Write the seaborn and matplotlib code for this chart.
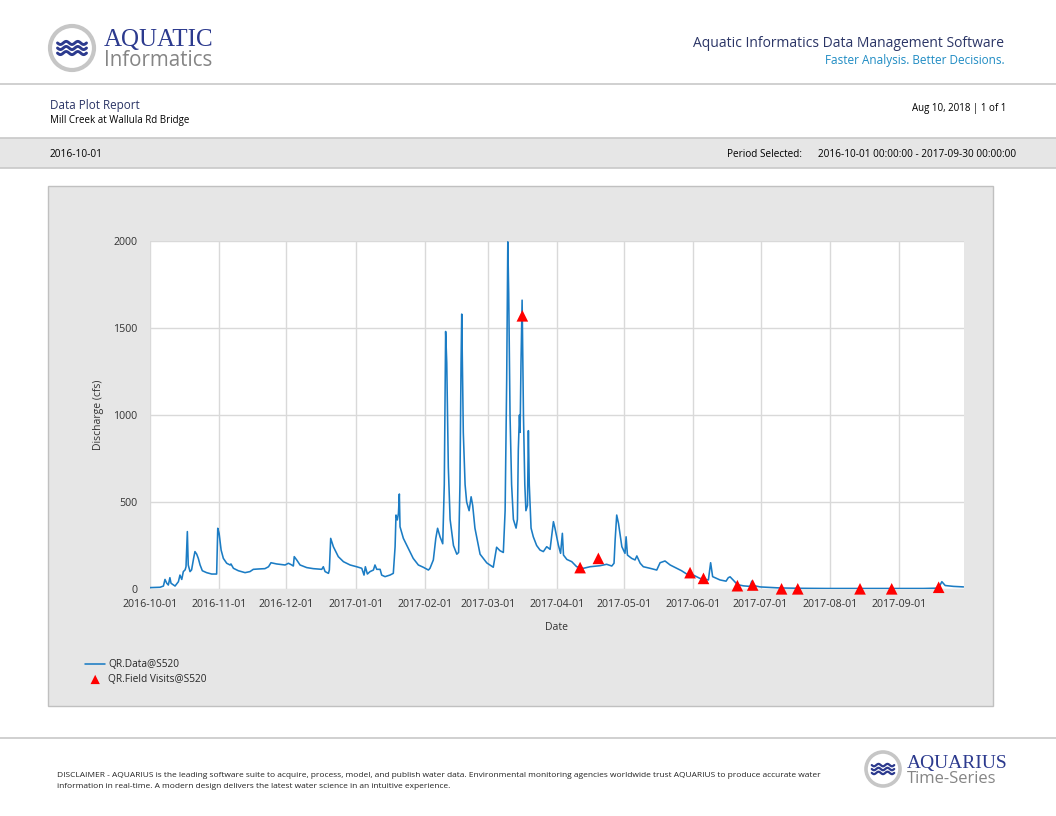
import numpy as np
import pandas as pd
import matplotlib
matplotlib.use("Agg")
import matplotlib.pyplot as plt
import matplotlib.dates as mdates
from matplotlib.patches import Rectangle, Circle
import seaborn as sns

# ---------------- data ----------------
START = "2016-10-01"
END = "2017-09-30"

day_offsets = [0, 4.5, 6.0, 6.7, 7.5, 8.2, 8.9, 9.4, 11.2, 12.7, 13.4, 14.2, 14.9, 15.7, 16.1,
               16.7, 17.1, 17.9, 18.6, 19.5, 20.1, 20.9, 21.6, 22.4, 23.4, 25.3, 27.6, 29.8,
               30.3, 30.9, 31.8, 32.8, 34.3, 35.8, 36.2, 37.3, 39.5, 42.5, 44.7, 46.2, 48.4,
               51.4, 53.0, 54.1, 56.6, 60.4, 61.9, 63.4,
               64.1, 64.5, 65.6, 67.1, 70.1, 73.0, 76.8, 77.5, 78.3, 79.8, 80.2, 80.8, 82.0,
               84.2, 86.5, 89.5, 92.4, 94.7, 95.7, 96.3, 97.2, 98.4, 99.9, 100.6, 101.4, 102.9,
               103.6, 105.1, 107.3, 108.8, 109.6, 110.0, 110.6, 111.1, 111.5, 111.8, 113.3,
               115.5, 117.7, 120.0, 122.2, 124.5, 125.2, 126.7, 127.8, 128.6,
               129.7, 130.9, 131.6, 132.2, 132.7, 133.4, 134.2, 135.7,
               137.2, 138.0, 138.6, 139.1, 139.4, 140.1, 140.9, 141.6, 142.7, 143.6, 144.3, 145.3,
               147.6, 150.6, 153.5, 155.0, 156.5, 158.0, 158.8, 159.5, 160.0, 160.4, 161.0, 161.7,
               162.5, 163.7, 164.3, 164.7, 165.2, 165.5, 165.9, 166.4, 167.0, 167.6, 168.1, 168.8,
               169.2, 169.6, 170.4, 171.4, 172.9,
               174.4, 175.9, 177.4, 178.9, 179.6, 180.4, 181.1, 182.6, 183.6, 184.4, 184.9, 186.4,
               188.6, 190.8, 193.8, 196.8, 201.3, 204.2, 206.5, 207.5, 208.0, 208.7, 209.5, 211.0,
               212.4, 212.9, 213.5, 215.4, 216.9, 217.7, 219.2, 220.6, 223.6, 226.6, 228.1, 230.3,
               232.6, 235.5, 237.7, 240.0, 243.0, 245.9, 249.7, 250.7, 251.6, 254.9,
               257.6, 258.6, 259.4, 260.9, 262.7, 265.4, 268.3, 269.1, 269.8, 272.8, 275.8,
               281.7, 290.7, 302.6, 316.0, 332.4, 345.8, 352.6, 354.1, 355.6, 359.3, 363.8]
discharge_cfs = [8, 10, 17, 55, 33, 23, 65, 33, 17, 42, 80, 55, 100, 110, 128,
                 330, 138, 100, 110, 176, 215, 200, 176, 138, 105, 94, 86, 86,
                 349, 320, 224, 176, 148, 138, 144, 119, 105, 94, 100, 113, 115,
                 117, 128, 151, 144, 138, 148, 138,
                 132, 186, 167, 138, 123, 117, 113, 128, 100, 90, 109, 291, 243,
                 186, 157, 138, 128, 119, 80, 128, 86, 100, 109, 138, 113, 113,
                 80, 71, 80, 90, 243, 425, 397, 435, 546, 358, 291,
                 234, 176, 138, 125, 109, 119, 167, 291, 349,
                 300, 260, 600, 1480, 1300, 700, 400, 250,
                 200, 210, 600, 1300, 1580, 900, 600, 500, 450, 530, 480, 350,
                 200, 150, 125, 240, 220, 210, 450, 1200, 1995, 1700, 1000, 600,
                 400, 350, 400, 800, 1000, 900, 1300, 1660, 1000, 600, 450, 480,
                 910, 600, 350, 300, 250,
                 224, 215, 243, 228, 300, 387, 349, 253, 205, 320, 195, 170,
                 157, 128, 119, 128, 134, 142, 132, 148, 282, 425, 377, 243,
                 205, 300, 195, 176, 167, 190, 148, 128, 119, 109, 151, 161,
                 138, 119, 105, 86, 80, 61, 52, 151, 71, 52,
                 45, 65, 70, 50, 25, 18, 15, 45, 20, 12, 10,
                 6, 4, 3, 3, 3, 3, 5, 42, 20, 15, 12]

visit_dates = ["2017-03-16 12:00", "2017-04-11 08:00", "2017-04-19 12:00", "2017-05-30 12:00",
               "2017-06-05 12:00", "2017-06-20 16:00", "2017-06-27 12:00", "2017-07-10 10:00",
               "2017-07-17 16:00", "2017-08-14 12:00", "2017-08-28 16:00", "2017-09-18 16:00"]
visit_cfs = [1570, 123, 176, 94, 61, 19, 23, 1, 1, 1, 1, 10]

y_ticks = [0, 500, 1000, 1500, 2000]
series_label = "QR.Data@S520"
visits_label = "QR.Field Visits@S520"
x_label = "Date"
y_label = "Discharge (cfs)"

title_main = "Data Plot Report"
location = "Mill Creek at Wallula Rd Bridge"
report_date = "Aug 10, 2018 | 1 of 1"
band_left = "2016-10-01"
period_label = "Period Selected:"
period_value = "2016-10-01 00:00:00 - 2017-09-30 00:00:00"
header_right1 = "Aquatic Informatics Data Management Software"
header_right2 = "Faster Analysis. Better Decisions."
disclaimer1 = ("DISCLAIMER - AQUARIUS is the leading software suite to acquire, process, model, and publish "
               "water data. Environmental monitoring agencies worldwide trust AQUARIUS to produce accurate water")
disclaimer2 = "information in real-time. A modern design delivers the latest water science in an intuitive experience."

# ---------------- style ----------------
sns.set_style("white")
plt.rcParams['font.family'] = ['Open Sans', 'DejaVu Sans']

NAVY = "#2c3a8e"
LINE_BLUE = "#1b7cc4"
GREY_BG = "#e6e6e6"
RULE = "#c8c8c8"

W, H = 1056, 816
fig = plt.figure(figsize=(W / 100, H / 100), dpi=100)
fig.patch.set_facecolor("white")

bg = fig.add_axes([0, 0, 1, 1])
bg.set_xlim(0, W)
bg.set_ylim(H, 0)
bg.axis("off")
bg.set_zorder(0)


def logo(cx, cy, r, ring_w):
    bg.add_patch(Circle((cx, cy), r, facecolor="white", edgecolor="#c6c6c6", linewidth=ring_w))
    for k in (-1, 0, 1):
        xs = np.linspace(cx - r * 0.66, cx + r * 0.66, 80)
        ys = cy + k * r * 0.23 + r * 0.07 * np.sin((xs - xs[0]) / (xs[-1] - xs[0]) * 2 * np.pi * 2.5)
        bg.plot(xs, ys, color=NAVY, linewidth=r * 0.095, solid_capstyle="round")


# header
logo(72, 48, 22, 3.0)
bg.text(104, 46, "AQUATIC", fontsize=18, family="Liberation Serif", color=NAVY, va="baseline")
bg.text(104, 66, "Informatics", fontsize=14.8, color="#858585", va="baseline")
bg.text(1004, 47, header_right1, fontsize=10, color="#2b3566", ha="right", va="baseline")
bg.text(1005, 64, header_right2, fontsize=8.5, color="#1e8bc3", ha="right", va="baseline")
bg.plot([0, W], [84, 84], color=RULE, linewidth=1.2)

bg.text(50, 109, title_main, fontsize=8.4, color="#2b3566", va="baseline")
bg.text(50, 123, location, fontsize=7, color="black", va="baseline")
bg.text(1006, 111, report_date, fontsize=7, color="black", ha="right", va="baseline")

bg.add_patch(Rectangle((0, 138), W, 30, facecolor=GREY_BG, edgecolor="none"))
bg.plot([0, W], [138, 138], color=RULE, linewidth=1.2)
bg.plot([0, W], [168, 168], color=RULE, linewidth=1.2)
bg.text(50, 157, band_left, fontsize=7.3, color="black", va="baseline")
bg.text(727, 157, period_label, fontsize=7.2, color="black", va="baseline")
bg.text(818, 157, period_value, fontsize=7.2, color="black", va="baseline")

# chart panel
bg.add_patch(Rectangle((48, 186), 945, 520, facecolor=GREY_BG, edgecolor="#c0c0c0", linewidth=1))

# footer
bg.plot([0, W], [738, 738], color=RULE, linewidth=1.2)
bg.text(57, 777, disclaimer1, fontsize=6.0, color="#222222", va="baseline")
bg.text(57, 788, disclaimer2, fontsize=6.0, color="#222222", va="baseline")
logo(883, 769, 17, 2.6)
bg.text(907, 768, "AQUARIUS", fontsize=14, family="Liberation Serif", color=NAVY, va="baseline")
bg.text(907, 783, "Time-Series", fontsize=12, color="#858585", va="baseline")

# ---------------- chart ----------------
start = pd.Timestamp(START)
df = pd.DataFrame({"date": start + pd.to_timedelta(day_offsets, unit="D"), "cfs": discharge_cfs})
fv = pd.DataFrame({"date": pd.to_datetime(visit_dates), "cfs": visit_cfs})

ax = fig.add_axes([150 / W, 1 - 589 / H, 814 / W, 348 / H])
ax.set_zorder(2)
ax.set_facecolor("white")
sns.lineplot(data=df, x="date", y="cfs", ax=ax, color=LINE_BLUE, linewidth=1.15,
             label=series_label, legend=False, zorder=2)
sns.scatterplot(data=fv, x="date", y="cfs", ax=ax, marker="^", s=70, color="#ff0000",
                edgecolor="none", label=visits_label, legend=False, zorder=3, clip_on=False)

ax.set_xlim(start, pd.Timestamp(END))
ax.set_ylim(0, 2000)
ax.set_yticks(y_ticks)
ax.xaxis.set_major_locator(mdates.MonthLocator())
ax.xaxis.set_major_formatter(mdates.DateFormatter("%Y-%m-%d"))
ax.grid(True, color="#d9d9d9", linewidth=1)
for s in ax.spines.values():
    s.set_visible(False)
ax.tick_params(axis="both", length=0, labelsize=7.7, labelcolor="#333333")
ax.tick_params(axis="y", pad=9)
ax.tick_params(axis="x", pad=7)
ax.set_xlabel(x_label, fontsize=7.5, color="#333333", labelpad=9)
ax.set_ylabel(y_label, fontsize=7.5, color="#333333", labelpad=7)

handles, labels = ax.get_legend_handles_labels()
fig.legend(handles, labels, loc="upper left", bbox_to_anchor=(81 / W, 1 - 655 / H),
           frameon=False, fontsize=7.3, handlelength=2.0, handletextpad=0.3,
           labelspacing=0.4, borderaxespad=0, markerscale=0.8)

fig.savefig("out.png", dpi=100, facecolor="white")
